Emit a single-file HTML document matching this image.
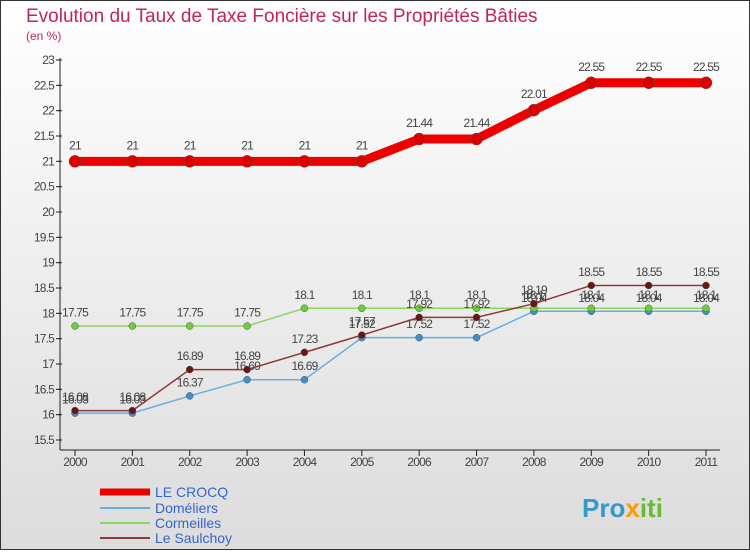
<!DOCTYPE html>
<html><head><meta charset="utf-8"><style>
html,body{margin:0;padding:0}
body{width:750px;height:550px;overflow:hidden;font-family:"Liberation Sans",sans-serif}
</style></head><body>
<svg id="c" width="750" height="550" xmlns="http://www.w3.org/2000/svg">
<defs><linearGradient id="bg" x1="0" y1="0" x2="0" y2="1"><stop offset="0" stop-color="#ffffff"/><stop offset="1" stop-color="#dcdcdc"/></linearGradient></defs>
<rect x="0.5" y="0.5" width="749" height="549" fill="url(#bg)" stroke="#333"/>
<text x="26" y="22" font-size="19" fill="#c2245a">Evolution du Taux de Taxe Foncière sur les Propriétés Bâties</text>
<text x="26" y="40" font-size="12" fill="#c2245a">(en %)</text>
<g id="axes"></g><g id="series"></g>
<g>
<line x1="100" y1="492" x2="150" y2="492" stroke="#ee0000" stroke-width="7"/>
<text x="155" y="497" font-size="14" fill="#3366cc">LE CROCQ</text>
<line x1="100" y1="508" x2="150" y2="508" stroke="#6aaee0" stroke-width="2"/>
<text x="155" y="513" font-size="14" fill="#3366cc">Doméliers</text>
<line x1="100" y1="523" x2="150" y2="523" stroke="#8ad860" stroke-width="2"/>
<text x="155" y="528" font-size="14" fill="#3366cc">Cormeilles</text>
<line x1="100" y1="538" x2="150" y2="538" stroke="#8a3a3a" stroke-width="2"/>
<text x="155" y="543" font-size="14" fill="#3366cc">Le Saulchoy</text>
</g>
<text x="582" y="517" font-size="26" font-weight="bold" fill="#3399cc">Pro<tspan fill="#ff9900">x</tspan><tspan fill="#66bb33">iti</tspan></text>
</svg>
<script>
const years=["2000","2001","2002","2003","2004","2005","2006","2007","2008","2009","2010","2011"];
const yTicks=[15.5,16,16.5,17,17.5,18,18.5,19,19.5,20,20.5,21,21.5,22,22.5,23];
const crocq=[21,21,21,21,21,21,21.44,21.44,22.01,22.55,22.55,22.55];
const domeliers=[16.03,16.03,16.37,16.69,16.69,17.52,17.52,17.52,18.04,18.04,18.04,18.04];
const cormeilles=[17.75,17.75,17.75,17.75,18.1,18.1,18.1,18.1,18.1,18.1,18.1,18.1];
const saulchoy=[16.08,16.08,16.89,16.89,17.23,17.57,17.92,17.92,18.19,18.55,18.55,18.55];
const NS="http://www.w3.org/2000/svg";
const xS=i=>75+i*(706-75)/11;
const yS=v=>60+(23-v)*380/7.5;
function mk(tag,attrs,parent,txt){const e=document.createElementNS(NS,tag);for(const k in attrs)e.setAttribute(k,attrs[k]);if(txt!==undefined)e.textContent=txt;parent.appendChild(e);return e;}
const ax=document.getElementById('axes');
let e=mk('line',{x1:60,y1:58,x2:60,y2:450,stroke:'#222'},ax);


e=mk('line',{x1:60,y1:450,x2:720,y2:450,stroke:'#222'},ax);


yTicks.forEach((t,i)=>{
 const y=yS(t);
 mk('line',{x1:56,y1:y,x2:62,y2:y,stroke:'#222'},ax);
 if(i<yTicks.length-1)mk('line',{x1:58,y1:y-25.3,x2:61,y2:y-25.3,stroke:'#e00'},ax);
 const l=mk('text',{x:54,y:y+4,'font-size':12,fill:'#444','text-anchor':'end','letter-spacing':'-0.8'},ax,String(t));
 
 
});
years.forEach((yr,i)=>{
 const x=xS(i);
 mk('line',{x1:x,y1:450,x2:x,y2:456,stroke:'#222'},ax);
 const l=mk('text',{x:x,y:466,'font-size':12,fill:'#444','text-anchor':'middle','letter-spacing':'-0.8'},ax,yr);
 
 
});
const sg=document.getElementById('series');
function draw(vals,name,color,dot,w,r){
 const g=mk('g',{},sg);
 
 
 const p=mk('polyline',{points:vals.map((v,i)=>xS(i)+','+yS(v)).join(' '),fill:'none',stroke:color,'stroke-width':w,'stroke-linejoin':'round'},g);
 
 
 vals.forEach((v,i)=>{
  const c=mk('circle',{cx:xS(i),cy:yS(v),r:r,fill:dot,stroke:'#555','stroke-width':0.5},g);
  
  
  const t=mk('text',{x:xS(i),y:yS(v)-r-6,'font-size':12,fill:'#444','text-anchor':'middle','letter-spacing':'-0.8'},g,String(v));
  
  
 });
}
draw(crocq,'le-crocq','#ee0000','#dd0000',9,6);
draw(domeliers,'domeliers','#6aaee0','#3f8fd0',1.5,3.5);
draw(cormeilles,'cormeilles','#8ad860','#6ccf3a',1.5,3.5);
draw(saulchoy,'le-saulchoy','#8a3a3a','#6a1515',1.5,3.5);
</script>
</body></html>
